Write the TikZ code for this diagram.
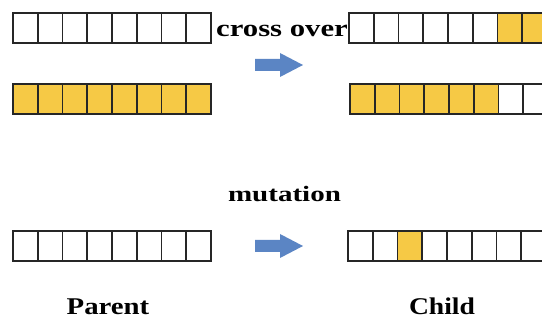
\documentclass[tikz,border=0pt]{standalone}
\usepackage{fontspec}
\setmainfont{Liberation Serif}
\definecolor{geneyellow}{HTML}{F6C945}
\definecolor{arrowblue}{HTML}{5B85C4}
\definecolor{cellline}{HTML}{262626}
\tikzset{
  cell/.style={draw=cellline, line width=1.8pt, minimum width=24.75pt, minimum height=30pt, inner sep=0pt, outer sep=0pt, anchor=north west},
  filled/.style={cell, fill=geneyellow},
  arrowfill/.style={fill=arrowblue, draw=none},
  lbl/.style={inner sep=0pt, anchor=base, text=black},
  pics/blockarrow/.style={code={
    \fill[arrowfill] (0,-6) -- (25,-6) -- (25,-12) -- (48,0) -- (25,12) -- (25,6) -- (0,6) -- cycle;
  }}
}
\begin{document}
\begin{tikzpicture}[x=1pt,y=-1pt]
\useasboundingbox[fill=white] (0,0) rectangle (542,320);
\begin{scope}
\clip (0,0) rectangle (542,320);
% parent rows
\foreach \i in {0,...,7} {
  \node[cell] (pa\i) at (13+\i*24.75,13) {};
  \node[filled] (pb\i) at (13+\i*24.75,84) {};
  \node[cell] (pm\i) at (13+\i*24.75,231) {};
}
% child rows
\foreach \i in {0,...,7} {
  \ifnum\i<6
    \node[cell] (ca\i) at (349+\i*24.75,13) {};
    \node[filled] (cb\i) at (350+\i*24.75,84) {};
  \else
    \node[filled] (ca\i) at (349+\i*24.75,13) {};
    \node[cell] (cb\i) at (350+\i*24.75,84) {};
  \fi
  \ifnum\i=2
    \node[filled] (cm\i) at (348+\i*24.75,231) {};
  \else
    \node[cell] (cm\i) at (348+\i*24.75,231) {};
  \fi
}
\end{scope}
% arrows
\coordinate (arrcross) at (255,65);
\coordinate (arrmut) at (255,246);
\pic at (arrcross) {blockarrow};
\pic at (arrmut) {blockarrow};
% labels
\node[lbl] (tcross) at (282,37) {\fontsize{24}{24}\selectfont\bfseries\scalebox{1.28}[1]{cross over}};
\node[lbl] (tmut) at (284.5,202) {\fontsize{22}{22}\selectfont\bfseries\scalebox{1.32}[1]{mutation}};
\node[lbl] (tparent) at (108,315) {\fontsize{24}{24}\selectfont\bfseries\scalebox{1.2}[1]{Parent}};
\node[lbl] (tchild) at (442,315) {\fontsize{24}{24}\selectfont\bfseries\scalebox{1.15}[1]{Child}};
\end{tikzpicture}
\end{document}
